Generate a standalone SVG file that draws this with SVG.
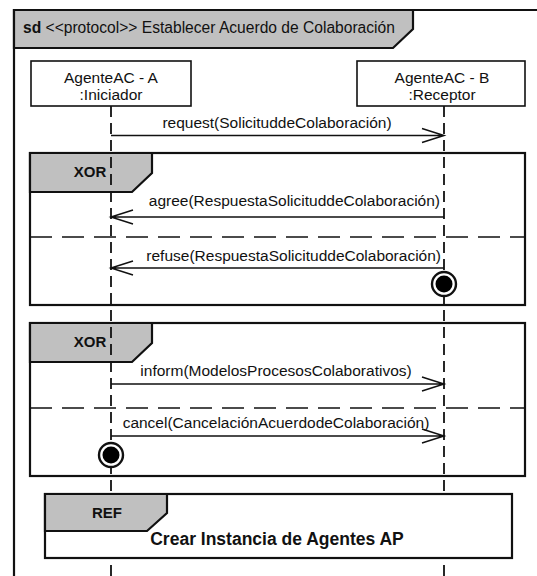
<svg xmlns="http://www.w3.org/2000/svg" width="537" height="576" viewBox="0 0 537 576">
<style>
text{font-family:"Liberation Sans",Arial,sans-serif;fill:#111;}
.lbl{font-size:15.5px;}
.b{font-weight:bold;}
.frame{fill:none;stroke:#111;stroke-width:2.2;}
.tab{fill:#c0c0c0;stroke:#111;stroke-width:2.2;}
.box{fill:#fff;stroke:#111;stroke-width:1.6;}
.life{stroke:#111;stroke-width:1.8;stroke-dasharray:11 6;fill:none;}
.sep{stroke:#111;stroke-width:1.6;stroke-dasharray:22 10;fill:none;}
.msg{stroke:#111;stroke-width:1.5;fill:none;}
</style>
<rect width="537" height="576" fill="#fff"/>
<g id="outer-frame">
<path class="frame" d="M14,590 V10 H560" stroke-width="2.6"/>
<path class="tab" d="M14,10 H413 V29 L393,48 H14 Z"/>
<text x="23" y="33" font-size="15.6"><tspan class="b">sd</tspan> &lt;&lt;protocol&gt;&gt; Establecer Acuerdo de Colaboración</text>
</g>
<g id="xor1">
<rect class="frame" x="30" y="153" width="495" height="152"/>
<path class="tab" d="M30,153 H152 V173 L132,192 H30 Z"/>
<text class="b" x="90" y="177" font-size="15" text-anchor="middle">XOR</text>
<line class="sep" x1="30" y1="237" x2="525" y2="237"/>
</g>
<g id="xor2">
<rect class="frame" x="30" y="323" width="495" height="153"/>
<path class="tab" d="M30,323 H152 V343 L132,362 H30 Z"/>
<text class="b" x="90" y="347" font-size="15" text-anchor="middle">XOR</text>
<line class="sep" x1="30" y1="408" x2="525" y2="408"/>
</g>
<g id="lifelines">
<line class="life" x1="111" y1="106" x2="111" y2="576"/>
<line class="life" x1="444" y1="106" x2="444" y2="576"/>
</g>
<g id="agenteA">
<rect class="box" x="31" y="61" width="160" height="45"/>
<text class="lbl" x="111" y="83" text-anchor="middle">AgenteAC - A</text>
<text class="lbl" x="111" y="100" text-anchor="middle">:Iniciador</text>
</g>
<g id="agenteB">
<rect class="box" x="357" y="61" width="168" height="45"/>
<text class="lbl" x="442" y="83" text-anchor="middle">AgenteAC - B</text>
<text class="lbl" x="442" y="100" text-anchor="middle">:Receptor</text>
</g>
<g id="connectors">
<path class="msg" d="M111,135.5 H444 M422,128.5 L444,135.5 L422,142.5"/>
<text class="lbl" x="277" y="128" text-anchor="middle">request(SolicituddeColaboración)</text>
<path class="msg" d="M444,217 H111 M133,210 L111,217 L133,224"/>
<text class="lbl" x="440" y="206" text-anchor="end">agree(RespuestaSolicituddeColaboración)</text>
<path class="msg" d="M444,268 H111 M133,261 L111,268 L133,275"/>
<text class="lbl" x="441" y="261" text-anchor="end">refuse(RespuestaSolicituddeColaboración)</text>
<path class="msg" d="M111,384 H444 M422,377 L444,384 L422,391"/>
<text class="lbl" x="276" y="376" text-anchor="middle">inform(ModelosProcesosColaborativos)</text>
<path class="msg" d="M111,436 H444 M422,429 L444,436 L422,443"/>
<text class="lbl" x="276" y="428" text-anchor="middle">cancel(CancelaciónAcuerdodeColaboración)</text>
</g>
<g id="terminateB">
<circle cx="444" cy="284" r="12" fill="#fff" stroke="#111" stroke-width="2.4"/>
<circle cx="444" cy="284" r="8.5" fill="#000"/>
</g>
<g id="terminateA">
<circle cx="111" cy="455" r="12" fill="#fff" stroke="#111" stroke-width="2.4"/>
<circle cx="111" cy="455" r="8.5" fill="#000"/>
</g>
<g id="ref">
<rect x="45" y="494" width="467" height="64" fill="#fff" stroke="#111" stroke-width="2.2"/>
<path class="tab" d="M45,494 H167 V513 L147,531 H45 Z"/>
<text class="b" x="107" y="518" font-size="15" text-anchor="middle">REF</text>
<text class="b" x="277" y="545" font-size="17.5" text-anchor="middle">Crear Instancia de Agentes AP</text>
</g>
</svg>
